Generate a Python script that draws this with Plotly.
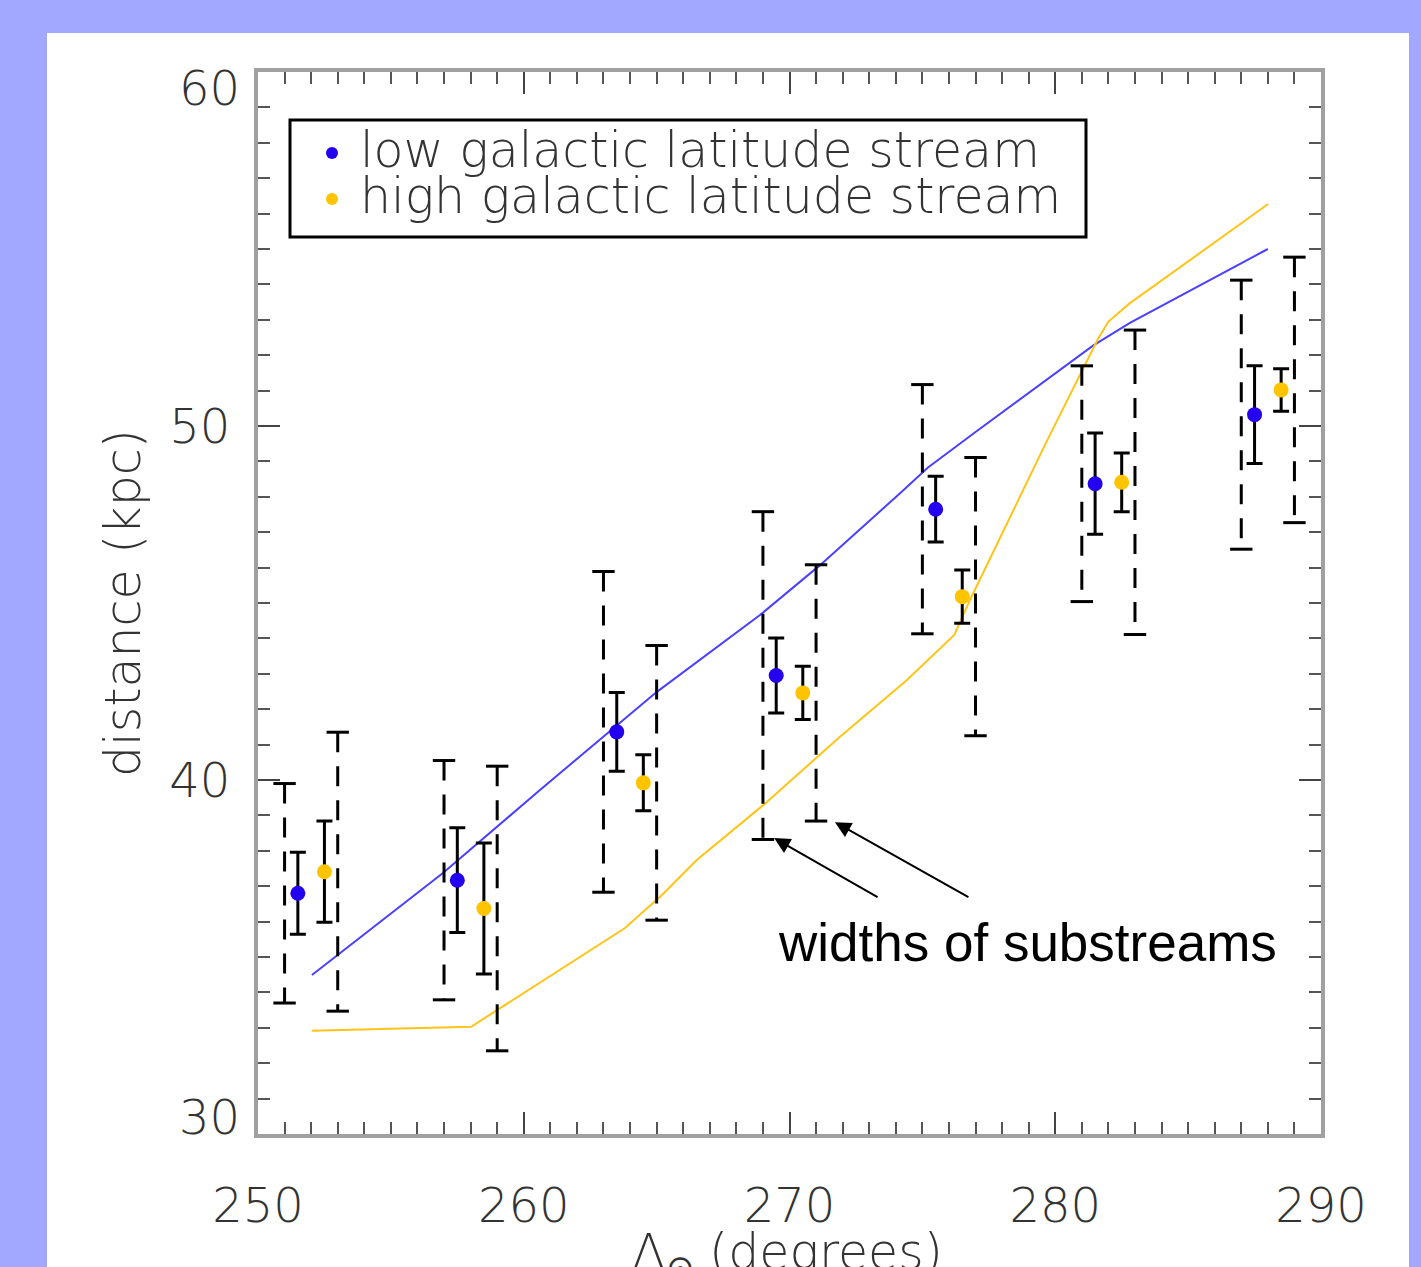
import plotly.graph_objects as go

# ---------------- data ----------------
blue_x = [251.5, 257.5, 263.5, 269.5, 275.5, 281.5, 287.5]
blue_y = [36.80, 37.17, 41.36, 42.95, 47.65, 48.37, 50.32]
blue_err = [1.16, 1.48, 1.11, 1.06, 0.93, 1.43, 1.38]
blue_width_x = [251.0, 257.0, 263.0, 269.0, 275.0, 281.0, 287.0]
blue_width = [3.10, 3.38, 4.53, 4.63, 3.52, 3.33, 3.80]

yellow_x = [252.5, 258.5, 264.5, 270.5, 276.5, 282.5, 288.5]
yellow_y = [37.41, 36.37, 39.92, 42.46, 45.18, 48.41, 51.02]
yellow_err = [1.43, 1.85, 0.79, 0.75, 0.75, 0.83, 0.60]
yellow_width_x = [253.0, 259.0, 265.0, 271.0, 277.0, 283.0, 289.0]
yellow_width = [3.94, 4.02, 3.88, 3.62, 3.93, 4.30, 3.75]

blue_model_x = [252.03, 256.96, 260.61, 265.01, 268.89, 271.15, 274.16, 275.2, 277.0, 281.42, 282.81, 288.0]
blue_model_y = [34.49, 37.37, 39.72, 42.49, 44.66, 46.07, 48.10, 48.82, 49.83, 52.27, 52.91, 55.0]

yellow_model_x = [252.02, 258.02, 263.81, 265.2, 266.51, 269.01, 271.90, 274.41, 276.2, 276.8, 279.7, 281.6, 282.0, 282.81, 288.01]
yellow_model_y = [32.92, 33.03, 35.82, 36.75, 37.74, 39.29, 41.22, 42.82, 44.10, 45.10, 49.60, 52.45, 52.95, 53.47, 56.27]

legend_labels = ["low galactic latitude stream", "high galactic latitude stream"]
annot_text = "widths of substreams"
annot_pos = (278.97, 35.42)
arrow_tips = [(269.42, 38.36), (271.71, 38.81)]
arrow_tails = [(273.37, 36.67), (276.79, 36.67)]

x_ticks = [250, 260, 270, 280, 290]
y_ticks_inner = [40, 50]
y_ticks_edge = [60, 30]

BLUE = "#2400F0"
YELLOW = "#FFC400"
BLUE_LINE = "#4A40FF"
YELLOW_LINE = "#FFC417"


def bar_segments(xs, ys, ws):
    bx, by = [], []
    for x, y, w in zip(xs, ys, ws):
        bx += [x, x, None]
        by += [y + w, y - w, None]
    return bx, by


def cap_points(xs, ys, ws):
    cx, cy = [], []
    for x, y, w in zip(xs, ys, ws):
        cx += [x, x]
        cy += [y + w, y - w]
    return cx, cy


fig = go.Figure()

# model lines
fig.add_trace(go.Scatter(x=blue_model_x, y=blue_model_y, mode="lines",
                         line=dict(color=BLUE_LINE, width=2), showlegend=False, hoverinfo="skip"))
fig.add_trace(go.Scatter(x=yellow_model_x, y=yellow_model_y, mode="lines",
                         line=dict(color=YELLOW_LINE, width=2), showlegend=False, hoverinfo="skip"))

# dashed width bars
for wx, yy, ww in [(blue_width_x, blue_y, blue_width), (yellow_width_x, yellow_y, yellow_width)]:
    bx, by = bar_segments(wx, yy, ww)
    fig.add_trace(go.Scatter(x=bx, y=by, mode="lines",
                             line=dict(color="black", width=3, dash="20px,14px"),
                             showlegend=False, hoverinfo="skip"))
    cx, cy = cap_points(wx, yy, ww)
    fig.add_trace(go.Scatter(x=cx, y=cy, mode="markers",
                             marker=dict(symbol="line-ew", size=16, line=dict(color="black", width=3)),
                             showlegend=False, hoverinfo="skip"))

# data points with error bars
fig.add_trace(go.Scatter(x=blue_x, y=blue_y, mode="markers", name=legend_labels[0],
                         marker=dict(color=BLUE, size=15),
                         error_y=dict(type="data", array=blue_err, color="black", thickness=3, width=8),
                         showlegend=False))
fig.add_trace(go.Scatter(x=yellow_x, y=yellow_y, mode="markers", name=legend_labels[1],
                         marker=dict(color=YELLOW, size=15),
                         error_y=dict(type="data", array=yellow_err, color="black", thickness=3, width=8),
                         showlegend=False))

# ---------------- layout ----------------
W, H = 1421, 1267
L, R, T, B = 258, 100, 72, 133
pw, ph = W - L - R, H - T - B


def px_x(p):
    return (p - L) / pw


def px_y(p):
    return (H - B - p) / ph


tick_font = dict(family="DejaVu Sans", size=48, color="#333333", weight=300)
axis_common = dict(
    showgrid=False, zeroline=False, showline=True, linecolor="#a0a0a0", linewidth=4,
    mirror="allticks", ticks="inside", ticklen=22, tickwidth=2, tickcolor="#444444",
    tickfont=tick_font,
    minor=dict(dtick=1, ticks="inside", ticklen=12, tickwidth=2, tickcolor="#555555", showgrid=False),
)

fig.update_xaxes(range=[250, 290], tickvals=x_ticks, ticktext=[str(v) for v in x_ticks],
                 ticklabelstandoff=26, **axis_common)
fig.update_yaxes(range=[30, 60], tickvals=y_ticks_inner, ticktext=[str(v) for v in y_ticks_inner],
                 ticklabelstandoff=14, **axis_common)

shapes = [
    dict(type="rect", xref="paper", yref="paper", x0=px_x(47), x1=px_x(1409), y0=px_y(1300), y1=px_y(33),
         fillcolor="white", line=dict(width=0), layer="below"),
    dict(type="rect", xref="paper", yref="paper", x0=px_x(290), x1=px_x(1086), y0=px_y(237), y1=px_y(120),
         fillcolor="white", line=dict(color="black", width=3), layer="above"),
    dict(type="circle", xref="paper", yref="paper", xsizemode="pixel", ysizemode="pixel",
         xanchor=px_x(332), yanchor=px_y(153), x0=-6, x1=6, y0=-6, y1=6,
         fillcolor=BLUE, line=dict(width=0)),
    dict(type="circle", xref="paper", yref="paper", xsizemode="pixel", ysizemode="pixel",
         xanchor=px_x(332), yanchor=px_y(199), x0=-6, x1=6, y0=-6, y1=6,
         fillcolor=YELLOW, line=dict(width=0)),
]

title_font = dict(family="DejaVu Sans", size=49, color="#333333", weight=300)
annotations = [
    dict(text=legend_labels[0], xref="paper", yref="paper", x=px_x(358), y=px_y(150),
         xanchor="left", yanchor="middle", showarrow=False, font=title_font),
    dict(text=legend_labels[1], xref="paper", yref="paper", x=px_x(358), y=px_y(196),
         xanchor="left", yanchor="middle", showarrow=False, font=title_font),
    dict(text="distance (kpc)", xref="paper", yref="paper", x=px_x(123), y=0.5,
         xanchor="center", yanchor="middle", textangle=-90, showarrow=False, font=title_font),
    dict(text="Λ<sub>⊙</sub> (degrees)", xref="paper", yref="paper", x=px_x(787), y=px_y(1222),
         xanchor="center", yanchor="top", showarrow=False, font=title_font),
    dict(text=annot_text, x=annot_pos[0], y=annot_pos[1], xref="x", yref="y",
         xanchor="center", yanchor="middle", showarrow=False,
         font=dict(family="Liberation Sans", size=53, color="black")),
]
# end tick labels of the y axis sit inside the range, as in the original
for val, shift in zip(y_ticks_edge, [-16, 17]):
    annotations.append(dict(text=str(val), xref="paper", yref="y", x=px_x(242), y=val,
                            xanchor="right", yanchor="middle", yshift=shift, showarrow=False,
                            font=tick_font))
for (tx, ty), (sx, sy) in zip(arrow_tips, arrow_tails):
    annotations.append(dict(text="", x=tx, y=ty, xref="x", yref="y", ax=sx, ay=sy, axref="x", ayref="y",
                            showarrow=True, arrowhead=2, arrowsize=1.6, arrowwidth=2, arrowcolor="black",
                            standoff=0, startstandoff=0))

fig.update_layout(
    width=W, height=H, autosize=False,
    margin=dict(l=L, r=R, t=T, b=B),
    paper_bgcolor="#A2A8FF", plot_bgcolor="white",
    shapes=shapes, annotations=annotations, showlegend=False,
)

fig.write_html("out.html")
